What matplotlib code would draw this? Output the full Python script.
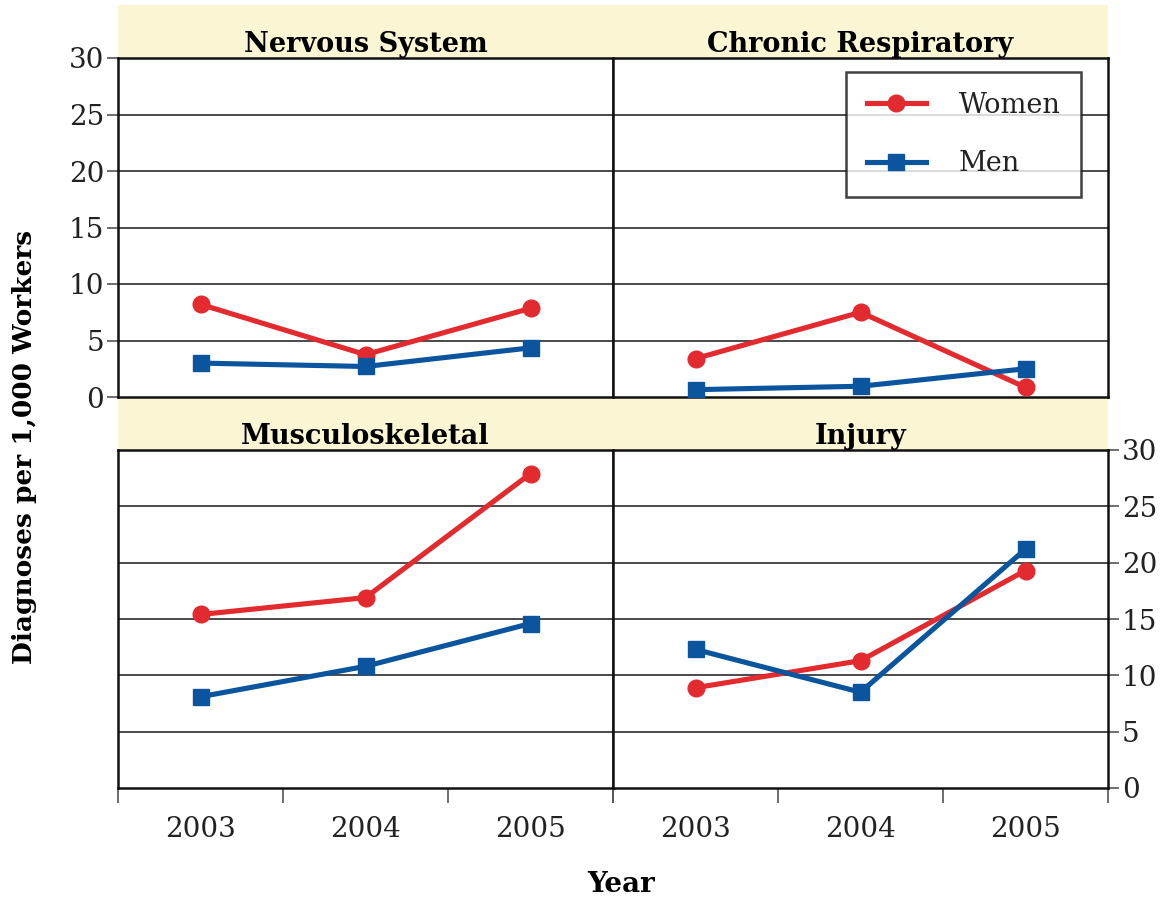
import matplotlib.pyplot as plt
from matplotlib.patches import Rectangle

plt.rcParams['font.family'] = ['DejaVu Serif']

years = ['2003', '2004', '2005']
panel_titles = ['Nervous System', 'Chronic Respiratory', 'Musculoskeletal', 'Injury']

nervous_women = [8.2, 3.75, 7.85]
nervous_men = [3.0, 2.7, 4.35]
respiratory_women = [3.4, 7.5, 0.85]
respiratory_men = [0.65, 0.95, 2.5]
musculo_women = [15.4, 16.9, 27.9]
musculo_men = [8.1, 10.8, 14.6]
injury_women = [8.9, 11.3, 19.3]
injury_men = [12.3, 8.5, 21.2]

y_ticks = [0, 5, 10, 15, 20, 25, 30]

women_series = [nervous_women, respiratory_women, musculo_women, injury_women]
men_series = [nervous_men, respiratory_men, musculo_men, injury_men]

RED = '#E32A2E'
BLUE = '#0B559F'
STRIP = '#FAF6D4'

W, H = 1169, 901
fig = plt.figure(figsize=(W / 100, H / 100), dpi=100)

# panel edges in pixels
xl, xm, xr = 118, 613, 1108
top_rows = [(58, 397), (450, 788)]
cols = [(xl, xm), (xm, xr)]

# yellow title strips
for y0, y1 in [(5, 58), (398, 450)]:
    fig.patches.append(Rectangle((xl / W, 1 - y1 / H), (xr - xl) / W, (y1 - y0) / H,
                                 transform=fig.transFigure, facecolor=STRIP,
                                 edgecolor='none', zorder=-1))

axes = []
for r, (yt, yb) in enumerate(top_rows):
    for c, (x0, x1) in enumerate(cols):
        ax = fig.add_axes([x0 / W, 1 - yb / H, (x1 - x0) / W, (yb - yt) / H])
        axes.append(ax)

x = list(range(len(years)))
for i, ax in enumerate(axes):
    ax.plot(x, women_series[i], color=RED, lw=3.7, marker='o', markersize=12,
            label='Women', zorder=3)
    ax.plot(x, men_series[i], color=BLUE, lw=3.7, marker='s', markersize=11.5,
            label='Men', zorder=3)
    ax.set_xlim(-0.5, 2.5)
    ax.set_ylim(0, 30)
    for v in y_ticks[1:-1]:
        ax.axhline(v, color='#3c3c3c', lw=1.3, zorder=1)
    for s in ax.spines.values():
        s.set_linewidth(1.8)
        s.set_color('#111111')
    ax.set_title(panel_titles[i], fontsize=19.5, fontweight='bold', pad=3)
    ax.set_yticks(y_ticks)
    ax.tick_params(axis='y', length=0, labelleft=False, labelright=False)
    ax.set_xticks([])

# left axis labels on top-left panel
axes[0].tick_params(axis='y', left=True, length=8, width=1.2, color='#555555',
                    labelleft=True, labelsize=20, pad=2, labelcolor='#222222')
# right axis labels on bottom-right panel
axes[3].tick_params(axis='y', right=True, left=False, length=8, width=1.2,
                    color='#555555', labelright=True, labelsize=20, pad=2,
                    labelcolor='#222222')

# bottom x ticks on lower panels
for ax in axes[2:]:
    ax.set_xticks([-0.5, 0.5, 1.5, 2.5])
    ax.set_xticklabels([])
    ax.tick_params(axis='x', which='major', length=11, width=1.2, color='#555555')
    ax.set_xticks(x, minor=True)
    ax.set_xticklabels(years, minor=True)
    ax.tick_params(axis='x', which='minor', length=0, labelsize=20, pad=20,
                   labelcolor='#222222')

leg = axes[1].legend(loc='upper right', bbox_to_anchor=(0.945, 0.96), fontsize=19.5,
                     frameon=True, fancybox=False, edgecolor='#111111',
                     labelspacing=1.15, handlelength=2.2, handletextpad=1.2,
                     borderpad=0.75, borderaxespad=0)
leg.get_frame().set_linewidth(1.8)
for t in leg.get_texts():
    t.set_color('#222222')

fig.text(25 / W, 1 - 447 / H, 'Diagnoses per 1,000 Workers', rotation=90,
         ha='center', va='center', fontsize=19, fontweight='bold')
fig.text(621 / W, 1 - 884 / H, 'Year', ha='center', va='center',
         fontsize=20, fontweight='bold')

fig.savefig('out.png', dpi=100)
